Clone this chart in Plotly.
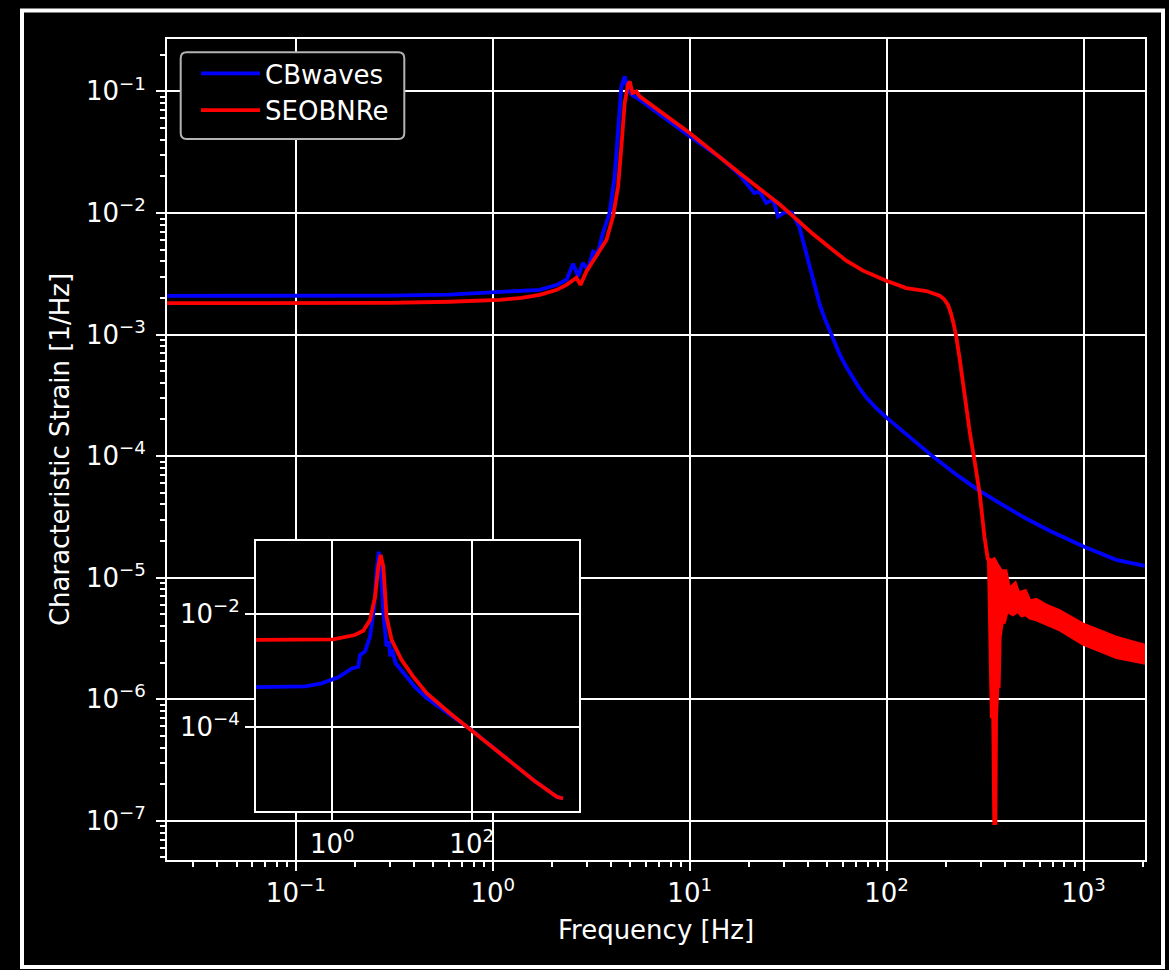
import plotly.graph_objects as go

# ---------------- main panel ----------------
cb_freq = [0.0222, 0.1, 0.3, 0.6, 1.085, 1.4, 1.73, 2.1, 2.37, 2.56, 2.71, 2.87, 3.04, 3.23,
           3.4, 3.63, 3.92, 4.16, 4.33, 4.5, 4.68, 4.81, 5.06, 5.57, 10.0, 14.8, 17.9, 20.2,
           21.3, 22.6, 24.5, 26.5, 28.1, 30.3, 33.0, 36.1, 39.1, 42.3, 45.7, 48.5, 51.4, 54.5,
           57.7, 62.0, 67.4, 72.5, 78.9, 88.0, 99.6, 117, 136, 153, 172, 230, 290, 375, 500,
           672, 1000, 1466, 2048]
cb_strain = [2.08e-3, 2.08e-3, 2.09e-3, 2.13e-3, 2.22e-3, 2.28e-3, 2.33e-3, 2.55e-3, 2.82e-3,
             3.82e-3, 3.0e-3, 3.89e-3, 3.4e-3, 4.82e-3, 4.6e-3, 6.87e-3, 1.0e-2, 2.0e-2,
             5.15e-2, 0.11, 0.133, 0.11, 0.094, 0.0855, 0.0427, 0.0274, 0.0206, 0.0165, 0.0146,
             0.015, 0.0121, 0.0129, 9.35e-3, 1.01e-2, 1.01e-2, 7.6e-3, 4.6e-3, 2.77e-3, 1.78e-3,
             1.35e-3, 1.07e-3, 8.5e-4, 6.9e-4, 5.5e-4, 4.4e-4, 3.65e-4, 3.03e-4, 2.5e-4, 2.08e-4,
             1.67e-4, 1.38e-4, 1.17e-4, 9.9e-5, 6.9e-5, 5.3e-5, 4.1e-5, 3.12e-5, 2.43e-5, 1.8e-5,
             1.4e-5, 1.25e-5]

se_freq = [0.0222, 0.1, 0.3, 0.6, 1.085, 1.4, 1.73, 2.1, 2.37, 2.66, 2.79, 2.99, 3.36, 3.78,
           4.08, 4.33, 4.5, 4.68, 4.86, 4.96, 5.12, 5.36, 5.57, 10.0, 17.9, 28.6, 34.8, 42.3,
           51.4, 62.4, 75.9, 99.6, 126, 159, 186, 196, 205, 212, 219, 226, 235, 244, 254, 264,
           280, 297, 314, 327]
se_strain = [1.81e-3, 1.81e-3, 1.82e-3, 1.86e-3, 1.93e-3, 2.0e-3, 2.12e-3, 2.32e-3, 2.56e-3,
             2.93e-3, 2.56e-3, 3.3e-3, 4.39e-3, 6.0e-3, 9.35e-3, 1.65e-2, 3.52e-2, 8.07e-2,
             0.1136, 0.121, 0.097, 0.1, 0.091, 0.0455, 0.0213, 0.0118, 8.9e-3, 6.7e-3, 5.2e-3,
             4.05e-3, 3.35e-3, 2.77e-3, 2.41e-3, 2.28e-3, 2.09e-3, 1.95e-3, 1.75e-3, 1.5e-3,
             1.22e-3, 9.5e-4, 6.3e-4, 3.9e-4, 2.4e-4, 1.6e-4, 9e-5, 4.9e-5, 2.16e-5, 1.39e-5]

# SEOBNRe above ~330 Hz oscillates faster than the pixel grid: upper / lower envelope
se_tail_hi_freq = [327, 329.6, 340, 353, 366, 383.7, 405.5, 421.3, 437.8, 451.6, 470, 508.4,
                   536, 575.4, 647.3, 755.6, 992, 1466, 2048]
se_tail_hi = [1.39e-5, 1.45e-5, 1.4e-5, 1.45e-5, 1.3e-5, 1.15e-5, 1.15e-5, 8.3e-6, 8.8e-6,
              9.2e-6, 7.6e-6, 7.9e-6, 6.5e-6, 6.7e-6, 6.0e-6, 5.4e-6, 4.2e-6, 3.26e-6, 2.81e-6]
se_tail_lo_freq = [327, 329.6, 333.4, 336.0, 338.5, 344.1, 348.3, 360.6, 363.3, 369.3, 374.7,
                   379.3, 389.8, 397.5, 413.2, 421.3, 437.8, 464.2, 483.1, 508.4, 532.4, 575.4,
                   647.3, 755.6, 992, 1466, 2048]
se_tail_lo = [1.39e-5, 7.4e-6, 2.52e-6, 2.52e-6, 7.1e-7, 7.1e-7, 9.4e-8, 9.4e-8, 7.1e-7,
              1.26e-6, 1.26e-6, 3.24e-6, 4.45e-6, 4.2e-6, 5.4e-6, 5.06e-6, 4.9e-6, 5.2e-6,
              4.8e-6, 4.9e-6, 4.6e-6, 4.45e-6, 4.1e-6, 3.68e-6, 2.81e-6, 2.18e-6, 1.96e-6]

# ---------------- inset ----------------
cb_inset_freq = [0.05, 0.41, 0.70, 1.22, 1.9, 2.36, 2.5, 2.94, 3.47, 4.0, 4.33, 4.64, 5.0, 5.4,
                 6.0, 6.5, 6.8, 7.2, 8.1, 11.2, 15.3, 22.6, 48.8, 100, 255, 765, 1660, 2048]
cb_inset_strain = [5.1e-4, 5.3e-4, 6.0e-4, 7.7e-4, 1.1e-3, 1.18e-3, 1.9e-3, 2.2e-3, 4.0e-3,
                   1.36e-2, 6.1e-2, 0.128, 5.3e-2, 1.04e-2, 2.7e-3, 3.3e-3, 1.8e-3, 2.4e-3,
                   1.36e-3, 8.4e-4, 5.2e-4, 3.3e-4, 1.66e-4, 8.9e-5, 3.47e-5, 1.17e-5, 5.9e-6,
                   5.5e-6]
se_inset_freq = [0.05, 0.5, 1.03, 2.1, 2.78, 3.47, 4.1, 4.57, 4.94, 5.4, 6.0, 7.1, 9.9, 14.5,
                 22.6, 48.8, 100, 255, 765, 1660, 2048]
se_inset_strain = [3.5e-3, 3.52e-3, 3.6e-3, 4.3e-3, 5.1e-3, 7.9e-3, 2.0e-2, 6.95e-2, 0.112,
                   6.95e-2, 9.1e-3, 3.5e-3, 1.55e-3, 7.9e-4, 4.0e-4, 1.77e-4, 8.9e-5, 3.47e-5,
                   1.17e-5, 5.9e-6, 5.5e-6]

x_tick_vals = [0.1, 1, 10, 100, 1000]
x_tick_text = ["10<sup>−1</sup>", "10<sup>0</sup>", "10<sup>1</sup>", "10<sup>2</sup>",
               "10<sup>3</sup>"]
y_tick_vals = [1e-7, 1e-6, 1e-5, 1e-4, 1e-3, 1e-2, 1e-1]
y_tick_text = ["10<sup>−%d</sup>" % k for k in (7, 6, 5, 4, 3, 2, 1)]
inset_x_vals = [1, 100]
inset_x_text = ["10<sup>0</sup>", "10<sup>2</sup>"]
inset_y_vals = [1e-4, 1e-2]
inset_y_text = ["10<sup>−4</sup>", "10<sup>−2</sup>"]

BLUE = "#0000ff"
RED = "#ff0000"
FONT = "DejaVu Sans"
FS = 26
LW = 3.8

W, H = 1169, 970
ML, MR, MT, MB = 167, 24, 39, 110
PW, PH = W - ML - MR, H - MT - MB


def px_x(px):
    return (px - ML) / PW


def px_y(py):
    return (H - MB - py) / PH


fig = go.Figure()

fig.add_trace(go.Scatter(x=cb_freq, y=cb_strain, mode="lines", name="CBwaves",
                         line=dict(color=BLUE, width=LW)))
fig.add_trace(go.Scatter(x=se_freq, y=se_strain, mode="lines", name="SEOBNRe",
                         line=dict(color=RED, width=LW)))
fig.add_trace(go.Scatter(x=se_tail_hi_freq + se_tail_lo_freq[::-1],
                         y=se_tail_hi + se_tail_lo[::-1],
                         mode="lines", fill="toself", fillcolor=RED, showlegend=False,
                         line=dict(color=RED, width=2)))

fig.add_trace(go.Scatter(x=cb_inset_freq, y=cb_inset_strain, mode="lines", showlegend=False,
                         line=dict(color=BLUE, width=LW), xaxis="x2", yaxis="y2"))
fig.add_trace(go.Scatter(x=se_inset_freq, y=se_inset_strain, mode="lines", showlegend=False,
                         line=dict(color=RED, width=LW), xaxis="x2", yaxis="y2"))


def minor_vals(lo, hi):
    return [m * 10.0 ** k for k in range(lo, hi) for m in range(2, 10)]


axis_common = dict(
    type="log", showline=True, linecolor="white", linewidth=2, mirror=True,
    ticks="outside", ticklen=9, tickwidth=2, tickcolor="white",
    showgrid=True, gridcolor="white", gridwidth=2, zeroline=False,
    tickfont=dict(family=FONT, size=FS, color="white"), tickmode="array",
    automargin=False,
)

fig.update_layout(
    width=W, height=H,
    margin=dict(l=ML, r=MR, t=MT, b=MB, pad=0),
    paper_bgcolor="black", plot_bgcolor="black",
    font=dict(family=FONT, size=FS, color="white"),
    xaxis=dict(axis_common, range=[-1.654, 3.312], domain=[0, 1], anchor="y",
               tickvals=x_tick_vals, ticktext=x_tick_text,
               minor=dict(tickmode="array", tickvals=minor_vals(-2, 4), ticks="outside",
                          ticklen=5, tickwidth=1.6, tickcolor="white", showgrid=False),
               title=dict(text="Frequency [Hz]", font=dict(family=FONT, size=FS, color="white"),
                          standoff=14)),
    yaxis=dict(axis_common, range=[-7.323, -0.569], domain=[0, 1], anchor="x",
               tickvals=y_tick_vals, ticktext=y_tick_text, ticklabelstandoff=5,
               minor=dict(tickmode="array", tickvals=minor_vals(-8, 0), ticks="outside",
                          ticklen=5, tickwidth=1.6, tickcolor="white", showgrid=False),
               title=dict(text="Characteristic Strain [1/Hz]",
                          font=dict(family=FONT, size=FS, color="white"), standoff=9)),
    xaxis2=dict(axis_common, range=[-1.095, 3.544], domain=[px_x(256), px_x(579.3)],
                anchor="y2", tickvals=inset_x_vals, ticktext=inset_x_text),
    yaxis2=dict(axis_common, range=[-5.481, -0.703], domain=[px_y(811), px_y(541)],
                anchor="x2", tickvals=inset_y_vals, ticktext=inset_y_text),
    legend=dict(x=px_x(196), y=px_y(50), xanchor="left", yanchor="top",
                bgcolor="rgba(0,0,0,0)", borderwidth=0, itemwidth=59,
                font=dict(family=FONT, size=FS, color="white"), tracegroupgap=0),
    showlegend=True,
)

# rounded legend frame
x0, x1, y0, y1, r = 180.7, 404.3, 52.3, 139.0, 6
pts = [
    ("M", (x0 + r, y0)), ("L", (x1 - r, y0)), ("Q", (x1, y0), (x1, y0 + r)),
    ("L", (x1, y1 - r)), ("Q", (x1, y1), (x1 - r, y1)), ("L", (x0 + r, y1)),
    ("Q", (x0, y1), (x0, y1 - r)), ("L", (x0, y0 + r)), ("Q", (x0, y0), (x0 + r, y0)),
]
path = ""
for seg in pts:
    cmd = seg[0]
    coords = " ".join("%.5f,%.5f" % (px_x(p[0]), px_y(p[1])) for p in seg[1:])
    path += "%s %s " % (cmd, coords)
path += "Z"

fig.add_shape(type="path", path=path, xref="paper", yref="paper", layer="above",
              fillcolor="black", line=dict(color="#b3b3b3", width=2))

# outer white frame
fig.add_shape(type="rect", xref="paper", yref="paper", layer="above",
              x0=px_x(22), x1=px_x(1163), y0=px_y(967), y1=px_y(10.5),
              line=dict(color="white", width=4), fillcolor="rgba(0,0,0,0)")

fig.write_html("out.html")
